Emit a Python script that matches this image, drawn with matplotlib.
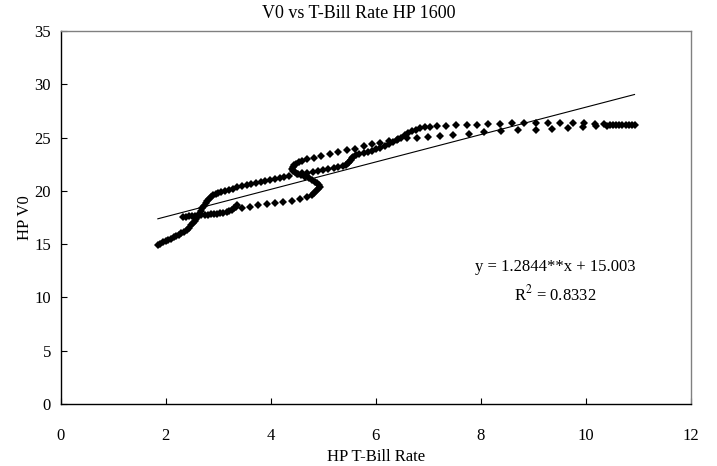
import matplotlib
matplotlib.use("Agg")
import matplotlib.pyplot as plt

plt.rcParams['font.family'] = ['Liberation Serif', 'DejaVu Serif']

# HP-filtered T-bill rate (x) vs HP-filtered V0 (y) in pieces
# lower-left steep part
rate_a = [1.85, 1.90, 1.95, 2.00, 2.05, 2.10, 2.15, 2.20, 2.25, 2.30, 2.35, 2.40, 2.44, 2.48, 2.52,
          2.55, 2.58, 2.61, 2.64, 2.67, 2.70, 2.73, 2.76, 2.79, 2.82, 2.86, 2.90, 2.95, 3.00]
v0_a = [14.92, 15.05, 15.17, 15.28, 15.40, 15.52, 15.63, 15.75, 15.88, 16.02, 16.18, 16.36, 16.55, 16.75, 16.97,
        17.18, 17.40, 17.63, 17.87, 18.12, 18.38, 18.62, 18.85, 19.05, 19.25, 19.45, 19.60, 19.72, 19.82]

# upper row between 3 and 4.4
rate_b = [3.06, 3.13, 3.20, 3.28, 3.36, 3.45, 3.54, 3.63, 3.72, 3.81, 3.90, 3.99, 4.08, 4.17, 4.26, 4.34]
v0_b = [19.92, 20.02, 20.12, 20.22, 20.33, 20.45, 20.55, 20.64, 20.73, 20.82, 20.91, 21.00, 21.10, 21.20, 21.31, 21.42]

# lower dense branch with the small hook
rate_c = [2.32, 2.38, 2.44, 2.50, 2.56, 2.62, 2.68, 2.74, 2.80, 2.86, 2.92, 2.98, 3.04, 3.10, 3.16,
          3.21, 3.26, 3.30, 3.33, 3.35]
v0_c = [17.55, 17.57, 17.60, 17.62, 17.65, 17.67, 17.70, 17.73, 17.76, 17.79, 17.82, 17.86, 17.90, 17.95, 18.02,
        18.10, 18.22, 18.38, 18.52, 18.65]

# lower sparse row leading into the S
rate_d = [3.45, 3.60, 3.76, 3.92, 4.08, 4.24, 4.40, 4.55, 4.69]
v0_d = [18.36, 18.51, 18.64, 18.75, 18.85, 18.96, 19.08, 19.25, 19.45]

# the S bend
rate_e = [4.78, 4.83, 4.87, 4.91, 4.93, 4.92, 4.89, 4.85, 4.79, 4.72, 4.65, 4.58, 4.52, 4.47, 4.43,
          4.41, 4.42, 4.44, 4.48, 4.53, 4.59]
v0_e = [19.62, 19.80, 19.98, 20.16, 20.34, 20.52, 20.70, 20.86, 21.02, 21.17, 21.32, 21.46, 21.60, 21.75, 21.90,
        22.06, 22.22, 22.38, 22.54, 22.68, 22.80]

# sparse row after the S, runs under the top row on the right
rate_f = [4.70, 4.82, 4.96, 5.12, 5.28, 5.45, 5.61, 5.77, 5.93, 6.09, 6.26, 6.43, 6.60, 6.79, 6.99,
          7.22, 7.48, 7.78, 8.07, 8.39, 8.72, 9.05, 9.36, 9.67, 9.95, 10.20, 10.40]
v0_f = [22.95, 23.12, 23.30, 23.50, 23.64, 23.80, 23.95, 24.18, 24.38, 24.52, 24.68, 24.82, 24.92, 25.00, 25.08,
        25.17, 25.24, 25.38, 25.49, 25.57, 25.70, 25.72, 25.80, 25.87, 25.95, 26.05, 26.10]

# middle row with the step, then the flat top row
rate_g = [4.50, 4.60, 4.70, 4.80, 4.90, 5.00, 5.10, 5.20, 5.29, 5.37, 5.44, 5.48, 5.50, 5.52, 5.54,
          5.57, 5.62, 5.69, 5.77, 5.85, 5.93, 6.01, 6.09, 6.17, 6.25, 6.33, 6.41, 6.48, 6.55, 6.62,
          6.69, 6.76, 6.84, 6.93, 7.03, 7.16, 7.33, 7.53, 7.73, 7.93, 8.14, 8.36, 8.59, 8.83, 9.05,
          9.29, 9.51, 9.75, 9.96, 10.17, 10.34, 10.46, 10.52, 10.58, 10.64, 10.70, 10.76, 10.82, 10.88, 10.93]
v0_g = [21.58, 21.65, 21.72, 21.80, 21.88, 21.95, 22.03, 22.11, 22.20, 22.30, 22.42, 22.57, 22.73, 22.90, 23.06,
        23.20, 23.33, 23.43, 23.52, 23.62, 23.76, 23.90, 24.05, 24.22, 24.40, 24.60, 24.80, 25.00, 25.20, 25.40,
        25.58, 25.74, 25.86, 25.95, 26.00, 26.05, 26.10, 26.14, 26.18, 26.21, 26.25, 26.28, 26.33, 26.35, 26.37,
        26.38, 26.38, 26.37, 26.36, 26.30, 26.30, 26.20, 26.20, 26.20, 26.20, 26.20, 26.20, 26.20, 26.20, 26.20]

# linear trendline shown on the chart
slope = 1.2844
intercept = 15.003
r_squared = 0.8332

x_ticks = [0, 2, 4, 6, 8, 10, 12]
y_ticks = [0, 5, 10, 15, 20, 25, 30, 35]

fig = plt.figure(figsize=(7.17, 4.66), dpi=100)
ax = fig.add_axes([0.0847, 0.133, 0.8786, 0.8005])

for xs, ys in [(rate_a, v0_a), (rate_b, v0_b), (rate_c, v0_c), (rate_d, v0_d),
               (rate_e, v0_e), (rate_f, v0_f), (rate_g, v0_g)]:
    ax.plot(xs, ys, linestyle='none', marker='D', markersize=4, color='black',
            markeredgewidth=0, zorder=3)

all_x = rate_a + rate_b + rate_c + rate_d + rate_e + rate_f + rate_g
x0, x1 = min(all_x), max(all_x)
ax.plot([x0, x1], [slope * x0 + intercept, slope * x1 + intercept], color='black', linewidth=0.8, zorder=2)

ax.text(9.42, 12.85, f'y = {slope}**x + {intercept}', ha='center', va='center', fontsize=12)
ax.text(9.42, 10.3, f'R$^2$ = {r_squared}', ha='center', va='center', fontsize=12,
        math_fontfamily='stix')

ax.set_xlim(0, 12)
ax.set_ylim(0, 35)
ax.set_xticks(x_ticks)
ax.set_yticks(y_ticks)
ax.tick_params(direction='in', length=4, width=0.8, labelsize=12, colors='black')
ax.tick_params(axis='x', pad=17)
ax.tick_params(axis='y', pad=7)

for side in ['top', 'right']:
    ax.spines[side].set_color('#808080')
    ax.spines[side].set_linewidth(1.0)
for side in ['left', 'bottom']:
    ax.spines[side].set_color('black')
    ax.spines[side].set_linewidth(1.0)

fig.text(0.5, 0.972, 'V0 vs T-Bill Rate HP 1600', ha='center', va='center', fontsize=13)
ax.set_xlabel('HP T-Bill Rate', fontsize=12, labelpad=4)
ax.set_ylabel('HP V0', fontsize=12, labelpad=1)

fig.savefig('out.png', dpi=100)
